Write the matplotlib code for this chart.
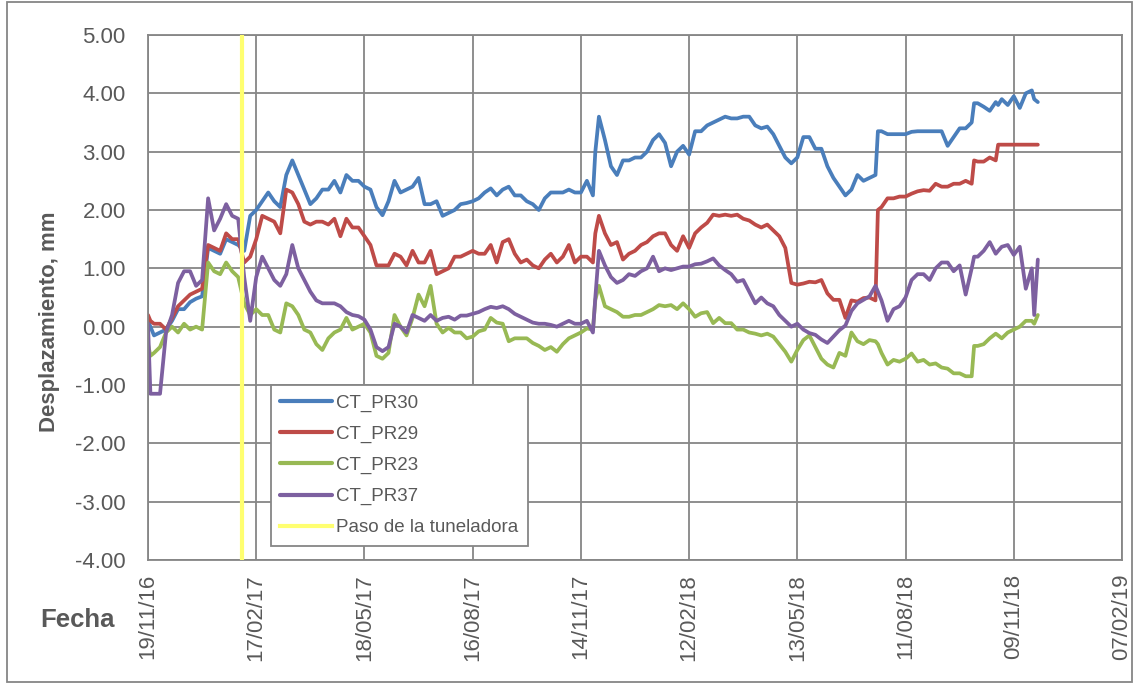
import numpy as np
import matplotlib
matplotlib.use('Agg')
import matplotlib.pyplot as plt
import matplotlib.dates as mdates
from matplotlib.patches import Rectangle

plt.rcParams['font.family'] = ['Liberation Sans', 'DejaVu Sans']

# dias desde 19/11/2016
dias = [0, 2, 5, 10, 15, 20, 25, 30, 35, 40, 45,
        50, 55, 60, 65, 70, 75, 80, 85, 90, 95,
        100, 105, 110, 115, 120, 125, 130, 135, 140, 145,
        150, 155, 160, 165, 170, 175, 180, 185, 190, 195,
        200, 205, 210, 215, 220, 225, 230, 235, 240, 245,
        250, 255, 260, 265, 270, 275, 280, 285, 290, 295,
        300, 305, 310, 315, 320, 325, 330, 335, 340, 345,
        350, 355, 360, 365, 370, 372, 375, 380, 385, 390, 395,
        400, 405, 410, 415, 420, 425, 430, 435, 440, 445,
        450, 455, 460, 465, 470, 475, 480, 485, 490, 495,
        500, 505, 510, 515, 520, 525, 530, 535, 540, 545,
        550, 555, 560, 565, 570, 575, 580, 585, 590, 595,
        600, 605, 607, 610, 615, 620, 625, 630, 635, 640, 645,
        650, 655, 660, 665, 670, 675, 680, 685, 687, 690, 695,
        700, 705, 707, 710, 715, 720, 725, 730, 735, 737, 740]

pr30 = [0.10, 0.00, -0.15, -0.10, -0.05, 0.10, 0.30, 0.30, 0.42, 0.48, 0.52,
        1.35, 1.30, 1.25, 1.50, 1.45, 1.40, 1.30, 1.90, 2.00, 2.15,
        2.30, 2.15, 2.05, 2.60, 2.85, 2.60, 2.35, 2.10, 2.20, 2.35,
        2.35, 2.50, 2.30, 2.60, 2.50, 2.50, 2.40, 2.35, 2.05, 1.91,
        2.15, 2.50, 2.30, 2.35, 2.40, 2.55, 2.10, 2.10, 2.15, 1.90,
        1.95, 2.00, 2.10, 2.12, 2.15, 2.20, 2.30, 2.37, 2.25, 2.35,
        2.40, 2.25, 2.25, 2.15, 2.10, 2.00, 2.20, 2.30, 2.30, 2.30,
        2.35, 2.30, 2.30, 2.50, 2.25, 3.00, 3.60, 3.20, 2.75, 2.60, 2.85,
        2.85, 2.90, 2.90, 3.00, 3.20, 3.30, 3.15, 2.75, 3.00, 3.10,
        2.95, 3.35, 3.35, 3.45, 3.50, 3.55, 3.60, 3.57, 3.57, 3.60,
        3.60, 3.45, 3.40, 3.43, 3.30, 3.10, 2.90, 2.80, 2.90, 3.25,
        3.25, 3.05, 3.05, 2.75, 2.55, 2.40, 2.25, 2.35, 2.60, 2.50,
        2.55, 2.60, 3.35, 3.35, 3.30, 3.30, 3.30, 3.30, 3.34, 3.35, 3.35,
        3.35, 3.35, 3.35, 3.10, 3.25, 3.40, 3.40, 3.50, 3.83, 3.83, 3.77,
        3.70, 3.85, 3.80, 3.90, 3.80, 3.95, 3.75, 4.00, 4.05, 3.90, 3.85]

pr29 = [0.20, 0.10, 0.05, 0.05, -0.05, 0.15, 0.35, 0.45, 0.55, 0.60, 0.65,
        1.40, 1.35, 1.30, 1.60, 1.50, 1.50, 1.10, 1.20, 1.50, 1.90,
        1.85, 1.80, 1.60, 2.35, 2.30, 2.10, 1.80, 1.75, 1.80, 1.80,
        1.75, 1.85, 1.55, 1.85, 1.70, 1.70, 1.55, 1.40, 1.05, 1.05,
        1.05, 1.25, 1.20, 1.05, 1.30, 1.10, 1.10, 1.30, 0.90, 0.95,
        1.00, 1.20, 1.20, 1.25, 1.30, 1.25, 1.25, 1.40, 1.10, 1.45,
        1.50, 1.25, 1.10, 1.15, 1.05, 1.00, 1.15, 1.25, 1.10, 1.20,
        1.40, 1.10, 1.20, 1.20, 1.10, 1.60, 1.90, 1.60, 1.40, 1.45, 1.15,
        1.25, 1.30, 1.40, 1.45, 1.55, 1.60, 1.60, 1.40, 1.30, 1.55,
        1.35, 1.60, 1.70, 1.78, 1.92, 1.90, 1.92, 1.90, 1.92, 1.85,
        1.82, 1.75, 1.70, 1.75, 1.65, 1.55, 1.35, 0.75, 0.72, 0.74,
        0.77, 0.76, 0.80, 0.57, 0.46, 0.46, 0.15, 0.45, 0.43, 0.49,
        0.50, 0.45, 2.00, 2.05, 2.20, 2.20, 2.23, 2.23, 2.28, 2.32, 2.34,
        2.33, 2.45, 2.40, 2.40, 2.45, 2.45, 2.50, 2.45, 2.85, 2.83, 2.83,
        2.90, 2.85, 3.12, 3.12, 3.12, 3.12, 3.12, 3.12, 3.12, 3.12, 3.12]

pr23 = [-0.30, -0.50, -0.45, -0.35, -0.10, 0.00, -0.10, 0.05, -0.05, 0.00, -0.05,
        1.10, 0.95, 0.90, 1.10, 0.95, 0.85, 0.40, 0.20, 0.30, 0.20,
        0.20, -0.05, -0.10, 0.40, 0.35, 0.20, -0.05, -0.10, -0.30, -0.40,
        -0.20, -0.10, -0.05, 0.15, -0.05, 0.00, 0.05, -0.10, -0.50, -0.55,
        -0.45, 0.20, 0.00, -0.15, 0.15, 0.55, 0.35, 0.70, 0.05, -0.10,
        -0.02, -0.10, -0.10, -0.20, -0.17, -0.08, -0.05, 0.15, 0.07, 0.05,
        -0.25, -0.20, -0.20, -0.20, -0.28, -0.33, -0.40, -0.35, -0.43, -0.30,
        -0.20, -0.15, -0.10, -0.03, -0.05, 0.46, 0.70, 0.35, 0.30, 0.25, 0.17,
        0.17, 0.20, 0.20, 0.25, 0.30, 0.37, 0.35, 0.37, 0.30, 0.40,
        0.30, 0.17, 0.23, 0.25, 0.06, 0.15, 0.06, 0.06, -0.05, -0.05,
        -0.10, -0.12, -0.15, -0.12, -0.17, -0.30, -0.43, -0.60, -0.40, -0.23,
        -0.15, -0.35, -0.55, -0.65, -0.70, -0.45, -0.50, -0.10, -0.25, -0.30,
        -0.23, -0.25, -0.30, -0.45, -0.65, -0.57, -0.60, -0.55, -0.46, -0.60, -0.57,
        -0.65, -0.63, -0.70, -0.72, -0.80, -0.80, -0.85, -0.85, -0.33, -0.33, -0.30,
        -0.20, -0.12, -0.15, -0.20, -0.10, -0.05, 0.00, 0.10, 0.10, 0.05, 0.20]

pr37 = [0.05, -1.15, -1.15, -1.15, -0.10, 0.20, 0.75, 0.95, 0.95, 0.70, 0.80,
        2.20, 1.65, 1.85, 2.10, 1.90, 1.85, 0.85, 0.10, 0.85, 1.20,
        1.00, 0.80, 0.70, 0.90, 1.40, 1.00, 0.80, 0.60, 0.45, 0.40,
        0.40, 0.40, 0.35, 0.25, 0.20, 0.18, 0.12, -0.05, -0.35, -0.42,
        -0.35, 0.05, 0.00, -0.10, 0.20, 0.15, 0.10, 0.20, 0.10, 0.15,
        0.17, 0.12, 0.19, 0.19, 0.22, 0.25, 0.30, 0.34, 0.32, 0.35,
        0.30, 0.22, 0.17, 0.12, 0.07, 0.05, 0.05, 0.03, 0.00, 0.05,
        0.10, 0.05, 0.05, 0.10, -0.10, 0.50, 1.30, 1.05, 0.85, 0.75, 0.80,
        0.90, 0.87, 0.95, 1.00, 1.20, 0.95, 1.00, 0.97, 1.00, 1.03,
        1.03, 1.07, 1.08, 1.12, 1.17, 1.05, 0.97, 0.90, 0.77, 0.80,
        0.60, 0.40, 0.50, 0.40, 0.35, 0.20, 0.10, 0.00, 0.05, -0.05,
        -0.11, -0.14, -0.22, -0.28, -0.17, -0.06, 0.02, 0.27, 0.40, 0.46,
        0.52, 0.70, 0.60, 0.45, 0.10, 0.30, 0.35, 0.50, 0.80, 0.90, 0.90,
        0.80, 1.00, 1.10, 1.10, 0.95, 1.05, 0.55, 1.00, 1.20, 1.20, 1.30,
        1.45, 1.25, 1.30, 1.37, 1.40, 1.23, 1.37, 0.65, 1.00, 0.20, 1.15]

dia_tuneladora = 78

inicio = np.datetime64('2016-11-19')
fechas = inicio + np.array(dias).astype('timedelta64[D]')
paso = inicio + np.timedelta64(dia_tuneladora, 'D')

fig = plt.figure(figsize=(11.35, 6.83), dpi=100)
ax = fig.add_axes([148/1135, 1-560/683, (1122-148)/1135, 525/683])

estilo = dict(lw=2.7, solid_joinstyle='round', solid_capstyle='round')
ax.plot(fechas, pr30, color='#4A7EBB', label='CT_PR30', **estilo)
ax.plot(fechas, pr29, color='#BE4B48', label='CT_PR29', **estilo)
ax.plot(fechas, pr23, color='#98B954', label='CT_PR23', **estilo)
ax.plot(fechas, pr37, color='#7D60A0', label='CT_PR37', **estilo)
ax.axvline(paso, color='#FFFF70', lw=3, label='Paso de la tuneladora', zorder=5)

ax.set_xlim(inicio, inicio + np.timedelta64(810, 'D'))
ax.set_ylim(-4, 5)
ax.set_yticks(np.arange(-4, 5.01, 1))
ax.yaxis.set_major_formatter(plt.FormatStrFormatter('%.2f'))
ax.set_xticks([inicio + np.timedelta64(90 * k, 'D') for k in range(10)])
ax.xaxis.set_major_formatter(mdates.DateFormatter('%d/%m/%y'))

ax.grid(True, color='#868686', lw=1.3)
ax.set_axisbelow(True)
for s in ax.spines.values():
    s.set_color('#868686')
    s.set_linewidth(1.3)
ax.tick_params(axis='both', length=0, labelsize=16, labelcolor='#595959')
ax.tick_params(axis='y', pad=16)
ax.tick_params(axis='x', pad=10)
plt.setp(ax.get_xticklabels(), rotation=90)

leg = ax.legend(loc='upper left', bbox_to_anchor=(0.1258, 0.333), borderaxespad=0,
                fontsize=13.5, labelcolor='#595959', fancybox=False, framealpha=1,
                edgecolor='#868686', handlelength=2.8, handletextpad=0.2,
                labelspacing=0.74, borderpad=0.5)
leg.get_frame().set_linewidth(1.3)
for h in leg.get_lines():
    h.set_linewidth(3)

fig.text(50/1135, 1-322/683, 'Desplazamiento, mm', rotation=90, ha='center', va='center',
         fontsize=16, fontweight='bold', color='#595959')
fig.text(77/1135, 1-620/683, 'Fecha', ha='center', va='center',
         fontsize=18.5, fontweight='bold', color='#595959')

fig.patches.append(Rectangle((7/1135, 0.002), 1125/1135, 0.995, transform=fig.transFigure,
                             fill=False, edgecolor='#868686', lw=1.3))

fig.savefig('out.png', dpi=100)
